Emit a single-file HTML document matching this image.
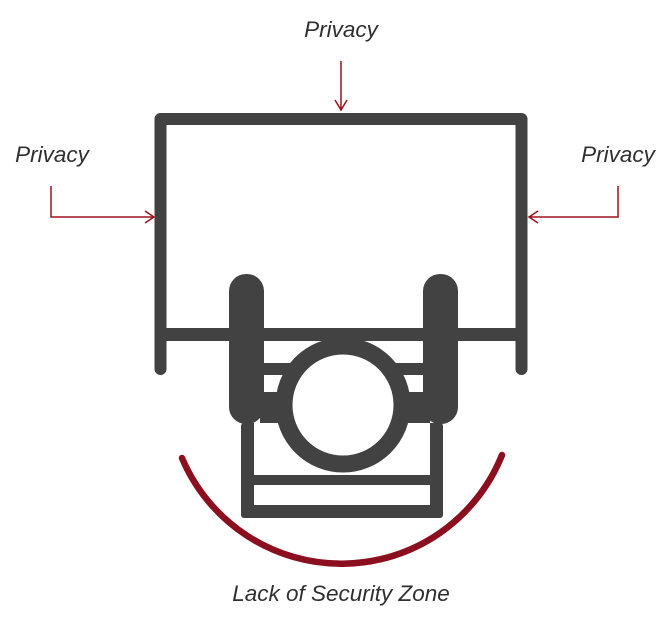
<!DOCTYPE html>
<html><head><style>html,body{margin:0;padding:0;background:#fff;width:670px;height:620px;overflow:hidden}</style></head>
<body>
<svg width="670" height="620" viewBox="0 0 670 620" xmlns="http://www.w3.org/2000/svg">
<g font-family="Liberation Sans, sans-serif" font-style="italic" font-size="22.5" fill="#2f2f2f">
<text x="341" y="37" text-anchor="middle">Privacy</text>
<text x="52" y="162" text-anchor="middle">Privacy</text>
<text x="618" y="162" text-anchor="middle">Privacy</text>
<text x="341" y="601" text-anchor="middle">Lack of Security Zone</text>
</g>
<g stroke="#a0101c" stroke-width="1.5" fill="none">
<path d="M341 61 V110 M335 100 L341 110 L347 100"/>
<path d="M51 186 V217 H154 M145 211 L154 217 L145 223"/>
<path d="M618 186 V217 H529 M538 211 L529 217 L538 223"/>
</g>
<g fill="none" stroke="#424242" stroke-width="12" stroke-linecap="round" stroke-linejoin="round">
<path d="M160.5 369 V119 H521.5 V369"/>
</g>
<rect x="155" y="328" width="372" height="13" fill="#424242"/>
<rect x="241" y="423" width="202" height="95" rx="3" fill="#424242"/>
<rect x="254" y="423" width="176" height="52" fill="#fff"/>
<rect x="254" y="485" width="176" height="20" fill="#fff"/>
<rect x="260" y="363" width="170" height="12" fill="#424242"/>
<rect x="260" y="392" width="170" height="31" fill="#424242"/>
<rect x="229" y="274" width="35" height="150" rx="17" fill="#424242"/>
<rect x="423" y="274" width="35" height="150" rx="17" fill="#424242"/>
<circle cx="343" cy="405" r="59" fill="#fff" stroke="#424242" stroke-width="17"/>
<path d="M182 458 A173 173 0 0 0 502 455" fill="none" stroke="#8b0f1e" stroke-width="6.5" stroke-linecap="round"/>
</svg>
</body></html>
